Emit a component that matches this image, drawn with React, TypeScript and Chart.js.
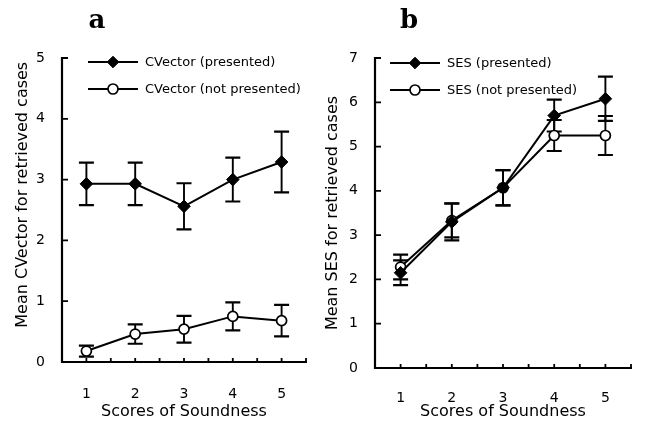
import React, { useEffect, useRef } from 'react';
import { Chart, registerables } from 'chart.js';

Chart.register(...registerables);

// ---- data ----
const categories = [1, 2, 3, 4, 5];
const xTickLabels = ['1', '2', '3', '4', '5'];

const cvPresented = [2.93, 2.93, 2.56, 3.0, 3.29];
const cvPresentedErr = [0.35, 0.35, 0.38, 0.36, 0.5];
const cvNotPresented = [0.18, 0.46, 0.54, 0.75, 0.68];
const cvNotPresentedErr = [0.09, 0.16, 0.22, 0.23, 0.26];

const sesPresented = [2.15, 3.3, 4.07, 5.7, 6.08];
const sesPresentedErr = [0.28, 0.42, 0.4, 0.36, 0.5];
const sesNotPresented = [2.28, 3.33, 4.07, 5.25, 5.25];
const sesNotPresentedErr = [0.28, 0.38, 0.4, 0.35, 0.44];

const FONT = "'DejaVu Sans', sans-serif";
const DIAMOND_R = 6.3;
const CIRCLE_R = 5;

// ---- plugins ----
const errorBarPlugin = {
  id: 'errorBars',
  beforeDatasetsDraw(chart: any) {
    const { ctx, scales } = chart;
    const xs = scales.x;
    const ys = scales.y;
    ctx.save();
    ctx.strokeStyle = '#000';
    chart.data.datasets.forEach((ds: any) => {
      const errs: number[] = ds.errors || [];
      ds.data.forEach((p: any, j: number) => {
        const e = errs[j];
        if (e == null) return;
        const px = xs.getPixelForValue(p.x);
        const top = ys.getPixelForValue(p.y + e);
        const bot = ys.getPixelForValue(p.y - e);
        ctx.lineWidth = 1.9;
        ctx.beginPath();
        ctx.moveTo(px, top);
        ctx.lineTo(px, bot);
        ctx.stroke();
        ctx.lineWidth = 2.2;
        ctx.beginPath();
        ctx.moveTo(px - 7.5, top);
        ctx.lineTo(px + 7.5, top);
        ctx.moveTo(px - 7.5, bot);
        ctx.lineTo(px + 7.5, bot);
        ctx.stroke();
      });
    });
    ctx.restore();
  },
};

const axesPlugin = {
  id: 'insideAxes',
  afterDraw(chart: any) {
    const { ctx, chartArea, scales } = chart;
    const xs = scales.x;
    const ys = scales.y;
    const { left, right, top, bottom } = chartArea;
    ctx.save();
    ctx.strokeStyle = '#000';
    ctx.lineWidth = 2.2;
    ctx.beginPath();
    ctx.moveTo(left, top - 1);
    ctx.lineTo(left, bottom);
    ctx.lineTo(right + 1, bottom);
    ctx.stroke();
    ctx.lineWidth = 1.8;
    ctx.beginPath();
    xs.ticks.forEach((t: any) => {
      const px = xs.getPixelForValue(t.value);
      ctx.moveTo(px, bottom);
      ctx.lineTo(px, bottom - 4);
    });
    ys.ticks.forEach((t: any) => {
      const py = ys.getPixelForValue(t.value);
      ctx.moveTo(left, py);
      ctx.lineTo(left + 6, py);
    });
    ctx.stroke();
    ctx.restore();
  },
};

function drawMarker(ctx: CanvasRenderingContext2D, style: string, x: number, y: number) {
  ctx.save();
  ctx.strokeStyle = '#000';
  ctx.beginPath();
  if (style === 'rectRot') {
    const r = DIAMOND_R - 0.5;
    ctx.moveTo(x - r, y);
    ctx.lineTo(x, y - r);
    ctx.lineTo(x + r, y);
    ctx.lineTo(x, y + r);
    ctx.closePath();
    ctx.fillStyle = '#000';
    ctx.lineWidth = 1;
  } else {
    ctx.arc(x, y, CIRCLE_R, 0, Math.PI * 2);
    ctx.fillStyle = '#fff';
    ctx.lineWidth = 1.7;
  }
  ctx.fill();
  ctx.stroke();
  ctx.restore();
}

const legendPlugin = {
  id: 'sketchLegend',
  afterDraw(chart: any, _args: any, opts: any) {
    const { ctx, chartArea } = chart;
    const x0 = chartArea.left + opts.dx;
    ctx.save();
    ctx.font = `13px ${FONT}`;
    ctx.fillStyle = '#000';
    ctx.textBaseline = 'middle';
    ctx.textAlign = 'left';
    chart.data.datasets.forEach((ds: any, i: number) => {
      const y = chartArea.top + opts.dy + i * opts.gap;
      ctx.strokeStyle = '#000';
      ctx.lineWidth = 1.9;
      ctx.beginPath();
      ctx.moveTo(x0, y);
      ctx.lineTo(x0 + opts.lineLen, y);
      ctx.stroke();
      drawMarker(ctx, ds.pointStyle, x0 + opts.lineLen / 2, y);
      ctx.fillText(ds.label, x0 + opts.lineLen + 7, y + 1);
    });
    ctx.restore();
  },
};

type Series = { label: string; values: number[]; errors: number[]; style: 'rectRot' | 'circle' };

type Panel = {
  left: number;
  width: number;
  yAxisWidth: number;
  xAxisHeight: number;
  padTop: number;
  padRight: number;
  yMax: number;
  yTitle: string;
  xTickPad: number;
  legendDx: number;
  legendDy: number;
  series: Series[];
};

function buildConfig(p: Panel): any {
  return {
    type: 'line',
    data: {
      datasets: p.series.map((s) => ({
        label: s.label,
        data: categories.map((c, i) => ({ x: c, y: s.values[i] })),
        errors: s.errors,
        borderColor: '#000',
        borderWidth: 2,
        pointStyle: s.style,
        pointRadius: s.style === 'rectRot' ? DIAMOND_R : CIRCLE_R,
        pointBorderWidth: s.style === 'rectRot' ? 1 : 1.7,
        pointBackgroundColor: s.style === 'rectRot' ? '#000' : '#fff',
        pointBorderColor: '#000',
        tension: 0,
        fill: false,
      })),
    },
    options: {
      responsive: false,
      animation: false,
      events: [],
      layout: { padding: { top: p.padTop, right: p.padRight, left: 0, bottom: 0 } },
      plugins: {
        legend: { display: false },
        tooltip: { enabled: false },
        sketchLegend: { dx: p.legendDx, dy: p.legendDy, gap: 27, lineLen: 50 },
      },
      scales: {
        x: {
          type: 'linear',
          min: 0.5,
          max: 5.5,
          grid: { display: false, drawTicks: false },
          border: { display: false },
          ticks: {
            stepSize: 0.5,
            autoSkip: false,
            maxRotation: 0,
            padding: p.xTickPad,
            color: '#000',
            font: { family: FONT, size: 14 },
            callback: (v: number) => (Number.isInteger(v) ? xTickLabels[v - 1] : ''),
          },
          title: {
            display: true,
            text: 'Scores of Soundness',
            color: '#000',
            font: { family: FONT, size: 16 },
            padding: { top: 0, bottom: 0 },
          },
          afterFit: (s: any) => {
            s.height = p.xAxisHeight;
          },
        },
        y: {
          type: 'linear',
          min: 0,
          max: p.yMax,
          grid: { display: false, drawTicks: false },
          border: { display: false },
          ticks: {
            stepSize: 1,
            padding: 17,
            color: '#000',
            font: { family: FONT, size: 14 },
          },
          title: {
            display: true,
            text: p.yTitle,
            color: '#000',
            font: { family: FONT, size: 16 },
            padding: { top: 13, bottom: 0 },
          },
          afterFit: (s: any) => {
            s.width = p.yAxisWidth;
          },
        },
      },
    },
    plugins: [errorBarPlugin, axesPlugin, legendPlugin],
  };
}

const panelA: Panel = {
  left: 0,
  width: 330,
  yAxisWidth: 62,
  xAxisHeight: 59,
  padTop: 58,
  padRight: 4,
  yMax: 5,
  yTitle: '      Mean CVector for retrieved cases',
  xTickPad: 24,
  legendDx: 26,
  legendDy: 4,
  series: [
    { label: 'CVector (presented)', values: cvPresented, errors: cvPresentedErr, style: 'rectRot' },
    { label: 'CVector (not presented)', values: cvNotPresented, errors: cvNotPresentedErr, style: 'circle' },
  ],
};

const panelB: Panel = {
  left: 310,
  width: 343,
  yAxisWidth: 65,
  xAxisHeight: 53,
  padTop: 58,
  padRight: 12,
  yMax: 7,
  yTitle: 'Mean SES for retrieved cases',
  xTickPad: 22,
  legendDx: 15,
  legendDy: 5,
  series: [
    { label: 'SES (presented)', values: sesPresented, errors: sesPresentedErr, style: 'rectRot' },
    { label: 'SES (not presented)', values: sesNotPresented, errors: sesNotPresentedErr, style: 'circle' },
  ],
};

function PanelChart({ panel }: { panel: Panel }) {
  const ref = useRef<HTMLCanvasElement | null>(null);
  useEffect(() => {
    if (!ref.current) return;
    const chart = new Chart(ref.current, buildConfig(panel));
    return () => chart.destroy();
  }, [panel]);
  return (
    <div style={{ position: 'absolute', left: panel.left, top: 0, width: panel.width, height: 421 }}>
      <canvas ref={ref} width={panel.width} height={421} style={{ width: panel.width, height: 421, display: 'block' }} />
    </div>
  );
}

const letterStyle: React.CSSProperties = {
  position: 'absolute',
  top: 6,
  width: 40,
  textAlign: 'center',
  fontFamily: "'DejaVu Serif', serif",
  fontWeight: 'bold',
  fontSize: 26,
  lineHeight: '26px',
  color: '#000',
};

export default function App() {
  return (
    <div style={{ position: 'absolute', left: 0, top: 0, width: 653, height: 421, background: '#fff', overflow: 'hidden' }}>
      <PanelChart panel={panelA} />
      <PanelChart panel={panelB} />
      <div style={{ ...letterStyle, left: 77 }}>a</div>
      <div style={{ ...letterStyle, left: 389 }}>b</div>
    </div>
  );
}
